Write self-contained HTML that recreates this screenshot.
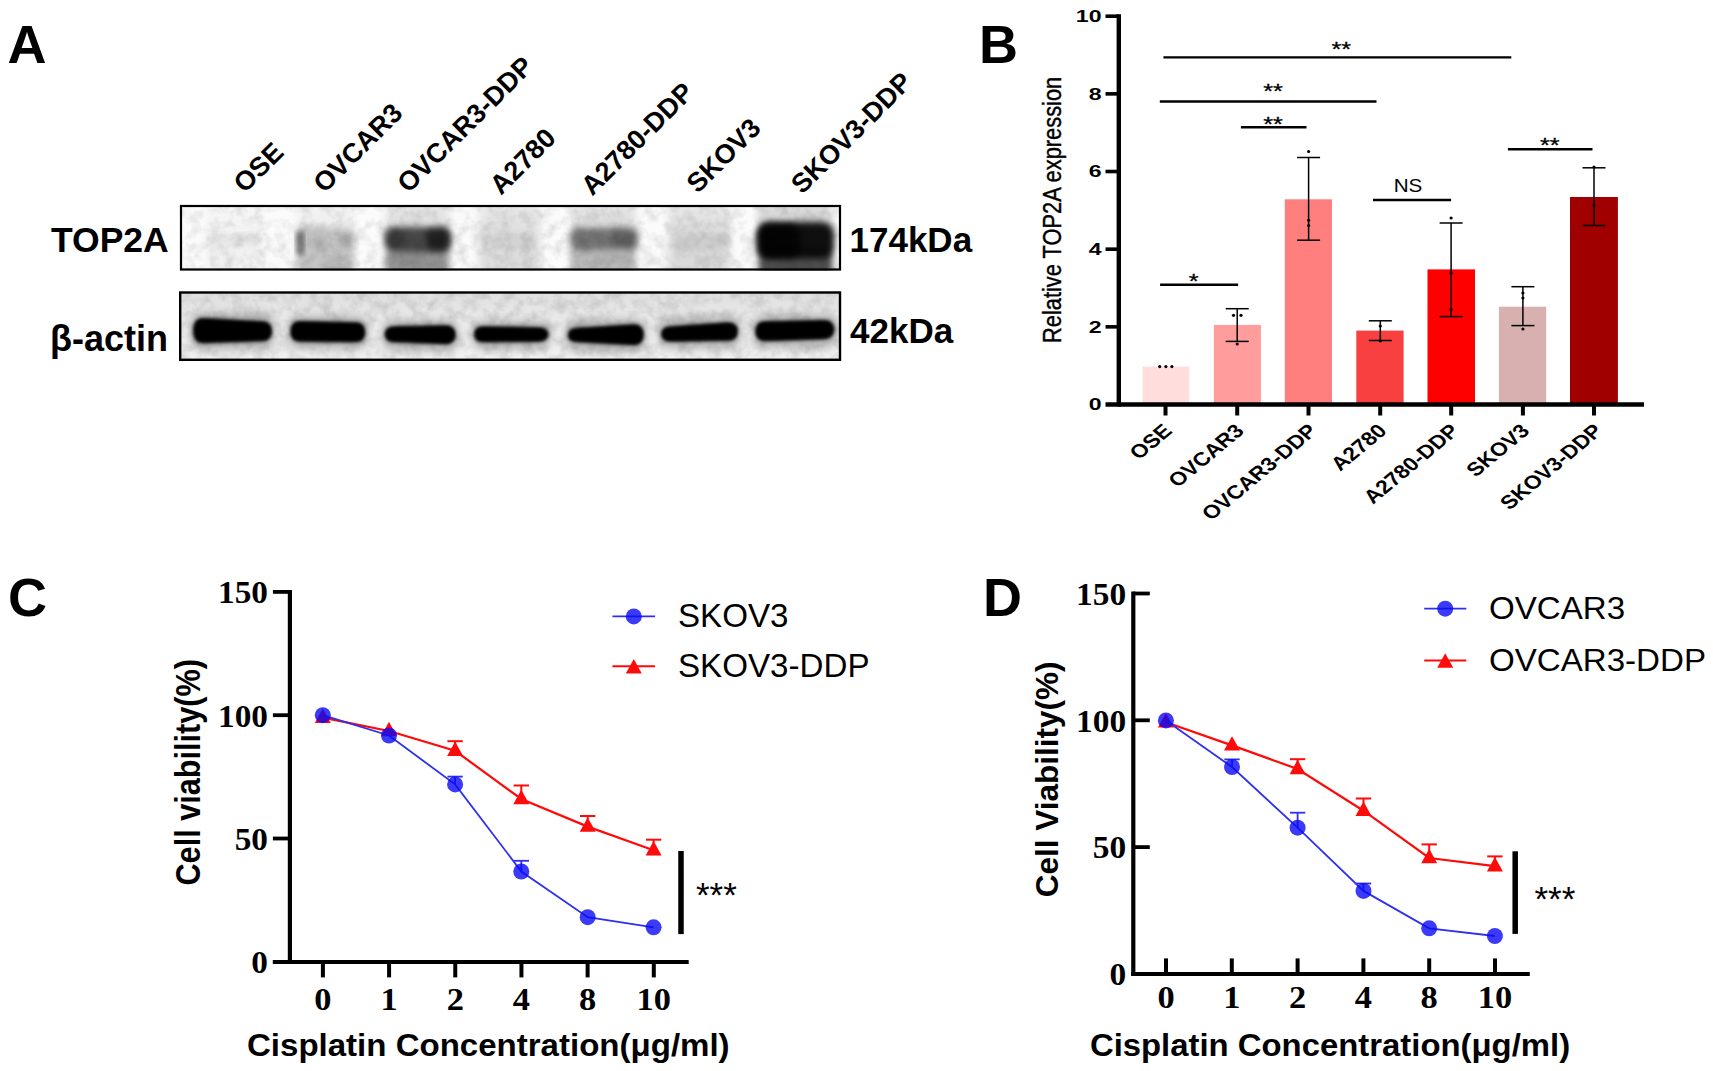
<!DOCTYPE html>
<html lang="en">
<head>
<meta charset="utf-8">
<title>TOP2A expression and cisplatin resistance in ovarian cancer cell lines</title>
<style>
html,body{margin:0;padding:0;background:#fff;}
body{width:1713px;height:1071px;overflow:hidden;font-family:'Liberation Sans', Arial, sans-serif;}
svg{display:block;}
text{white-space:pre;}
</style>
</head>
<body>
<svg width="1713" height="1071" viewBox="0 0 1713 1071">
<defs>
<filter id="bl1" x="-20%" y="-50%" width="140%" height="200%"><feGaussianBlur stdDeviation="1.4"/></filter>
<filter id="bl2" x="-20%" y="-60%" width="140%" height="220%"><feGaussianBlur stdDeviation="2.8"/></filter>
<filter id="bl3" x="-30%" y="-60%" width="160%" height="220%"><feGaussianBlur stdDeviation="3"/></filter>
<filter id="bl4" x="-30%" y="-60%" width="160%" height="220%"><feGaussianBlur stdDeviation="4.5"/></filter>
<linearGradient id="laneg" x1="0" y1="0" x2="0" y2="1">
<stop offset="0" stop-color="#000" stop-opacity="0.55"/><stop offset="0.25" stop-color="#000" stop-opacity="0.6"/><stop offset="0.5" stop-color="#000" stop-opacity="1"/><stop offset="1" stop-color="#000" stop-opacity="1"/>
</linearGradient>
<filter id="noise" x="0" y="0" width="100%" height="100%"><feTurbulence type="fractalNoise" baseFrequency="0.09" numOctaves="3" seed="7"/><feColorMatrix type="matrix" values="0 0 0 0 0  0 0 0 0 0  0 0 0 0 0  1.0 0 0 0 -0.38"/></filter>
<linearGradient id="bg2" x1="0" y1="0" x2="0" y2="1">
<stop offset="0" stop-color="#dedede"/><stop offset="0.35" stop-color="#e9e9e9"/><stop offset="1" stop-color="#f1f1f1"/>
</linearGradient>
</defs>
<rect x="0" y="0" width="1713" height="1071" fill="#ffffff"/>

<g id="panelA">
<text transform="translate(7.50,63.30)" font-family="'Liberation Sans', Arial, sans-serif" font-size="54" font-weight="bold" text-anchor="start" fill="#000" >A</text>
<text transform="translate(244.80,194.10) rotate(-45)" font-family="'Liberation Sans', Arial, sans-serif" font-size="27" font-weight="bold" text-anchor="start" fill="#000" >OSE</text>
<text transform="translate(324.50,194.10) rotate(-45)" font-family="'Liberation Sans', Arial, sans-serif" font-size="27" font-weight="bold" text-anchor="start" fill="#000" >OVCAR3</text>
<text transform="translate(408.50,194.10) rotate(-45)" font-family="'Liberation Sans', Arial, sans-serif" font-size="27" font-weight="bold" text-anchor="start" fill="#000" >OVCAR3-DDP</text>
<text transform="translate(501.00,196.00) rotate(-45)" font-family="'Liberation Sans', Arial, sans-serif" font-size="27" font-weight="bold" text-anchor="start" fill="#000" >A2780</text>
<text transform="translate(592.20,196.80) rotate(-45)" font-family="'Liberation Sans', Arial, sans-serif" font-size="27" font-weight="bold" text-anchor="start" fill="#000" >A2780-DDP</text>
<text transform="translate(697.70,194.30) rotate(-45)" font-family="'Liberation Sans', Arial, sans-serif" font-size="27" font-weight="bold" text-anchor="start" fill="#000" >SKOV3</text>
<text transform="translate(802.20,195.00) rotate(-45)" font-family="'Liberation Sans', Arial, sans-serif" font-size="27" font-weight="bold" text-anchor="start" fill="#000" >SKOV3-DDP</text>
<text transform="translate(51.00,251.90) scale(1.015,1.0)" font-family="'Liberation Sans', Arial, sans-serif" font-size="35" font-weight="bold" text-anchor="start" fill="#000" >TOP2A</text>
<text transform="translate(50.00,350.80)" font-family="'Liberation Sans', Arial, sans-serif" font-size="36" font-weight="bold" text-anchor="start" fill="#000" >β-actin</text>
<text transform="translate(849.50,251.90)" font-family="'Liberation Sans', Arial, sans-serif" font-size="35" font-weight="bold" text-anchor="start" fill="#000" >174kDa</text>
<text transform="translate(850.00,343.30)" font-family="'Liberation Sans', Arial, sans-serif" font-size="35" font-weight="bold" text-anchor="start" fill="#000" >42kDa</text>
<clipPath id="clipB1"><rect x="180.0" y="205.0" width="661.0" height="65.5"/></clipPath>
<g clip-path="url(#clipB1)">
<rect x="180.00" y="205.00" width="661.00" height="65.50" fill="#fbfbfb" />
<rect x="205.0" y="180.0" width="59.0" height="115.5" fill="url(#laneg)" opacity="0.035" filter="url(#bl4)"/>
<rect x="208.0" y="236.0" width="52.0" height="10.0" rx="3.3" fill="#000" opacity="0.05" filter="url(#bl3)"/>
<rect x="297.0" y="180.0" width="57.0" height="115.5" fill="url(#laneg)" opacity="0.06" filter="url(#bl4)"/>
<rect x="297.0" y="228.0" width="57.0" height="67.5" fill="#000" opacity="0.17" filter="url(#bl3)"/>
<rect x="296.0" y="231.0" width="8.0" height="24.0" rx="2.7" fill="#000" opacity="0.42" filter="url(#bl2)"/>
<rect x="312.0" y="236.0" width="14.0" height="12.0" rx="4.0" fill="#000" opacity="0.1" filter="url(#bl3)"/>
<rect x="338.0" y="234.0" width="16.0" height="14.0" rx="4.7" fill="#000" opacity="0.1" filter="url(#bl3)"/>
<rect x="322.0" y="258.0" width="30.0" height="37.5" fill="#000" opacity="0.06" filter="url(#bl3)"/>
<rect x="386.0" y="180.0" width="63.0" height="115.5" fill="url(#laneg)" opacity="0.14" filter="url(#bl4)"/>
<rect x="385.0" y="227.0" width="66.0" height="25.0" rx="8.3" fill="#000" opacity="0.66" filter="url(#bl3)"/>
<rect x="426.0" y="229.0" width="24.0" height="21.0" rx="7.0" fill="#000" opacity="0.55" filter="url(#bl3)"/>
<rect x="386.0" y="231.0" width="20.0" height="16.0" rx="5.3" fill="#000" opacity="0.25" filter="url(#bl3)"/>
<rect x="386.0" y="250.0" width="63.0" height="45.5" fill="#000" opacity="0.32" filter="url(#bl3)"/>
<rect x="479.0" y="180.0" width="61.0" height="115.5" fill="url(#laneg)" opacity="0.12" filter="url(#bl4)"/>
<rect x="484.0" y="234.0" width="52.0" height="14.0" rx="4.7" fill="#000" opacity="0.04" filter="url(#bl3)"/>
<rect x="571.0" y="180.0" width="65.0" height="115.5" fill="url(#laneg)" opacity="0.15" filter="url(#bl4)"/>
<rect x="570.0" y="228.0" width="68.0" height="22.0" rx="7.3" fill="#000" opacity="0.46" filter="url(#bl3)"/>
<rect x="612.0" y="232.0" width="24.0" height="14.0" rx="4.7" fill="#000" opacity="0.18" filter="url(#bl3)"/>
<rect x="571.0" y="250.0" width="65.0" height="45.5" fill="#000" opacity="0.14" filter="url(#bl3)"/>
<rect x="668.0" y="180.0" width="62.0" height="115.5" fill="url(#laneg)" opacity="0.13" filter="url(#bl4)"/>
<rect x="672.0" y="234.0" width="56.0" height="16.0" rx="5.3" fill="#000" opacity="0.06" filter="url(#bl3)"/>
<rect x="759.0" y="180.0" width="73.0" height="115.5" fill="url(#laneg)" opacity="0.2" filter="url(#bl4)"/>
<rect x="757.0" y="222.0" width="77.0" height="36.0" rx="12.0" fill="#000" opacity="0.92" filter="url(#bl3)"/>
<rect x="758.0" y="224.0" width="42.0" height="34.0" rx="11.3" fill="#000" opacity="0.7" filter="url(#bl3)"/>
<rect x="759.0" y="250.0" width="73.0" height="45.5" fill="#000" opacity="0.62" filter="url(#bl3)"/>
<rect x="180.0" y="205.0" width="661.0" height="65.5" filter="url(#noise)" opacity="0.22"/>
</g>
<rect x="181.0" y="206.0" width="659.0" height="63.5" fill="none" stroke="#000" stroke-width="2.2"/>
<clipPath id="clipB2"><rect x="179.0" y="291.5" width="662.0" height="69.30000000000001"/></clipPath>
<g clip-path="url(#clipB2)">
<rect x="179.00" y="291.50" width="662.00" height="69.30" fill="url(#bg2)" />
<rect x="190.9" y="312.7" width="83.4" height="37.9" rx="10" fill="#000" opacity="0.22" filter="url(#bl4)"/>
<path d="M202.9,318.7 L262.3,322.0 Q271.3,322.0 271.3,331.2 Q271.3,340.5 262.3,340.5 L202.9,342.6 Q193.9,342.6 193.9,330.6 Q193.9,318.7 202.9,318.7 Z" fill="#000" filter="url(#bl2)"/>
<path d="M202.9,318.7 L262.3,322.0 Q271.3,322.0 271.3,331.2 Q271.3,340.5 262.3,340.5 L202.9,342.6 Q193.9,342.6 193.9,330.6 Q193.9,318.7 202.9,318.7 Z" fill="#000" opacity="0.9" filter="url(#bl1)"/>
<rect x="288.1" y="315.7" width="79.5" height="33.9" rx="10" fill="#000" opacity="0.22" filter="url(#bl4)"/>
<path d="M300.1,321.7 L355.6,323.0 Q364.6,323.0 364.6,332.3 Q364.6,341.6 355.6,341.6 L300.1,341.0 Q291.1,341.0 291.1,331.4 Q291.1,321.7 300.1,321.7 Z" fill="#000" filter="url(#bl2)"/>
<path d="M300.1,321.7 L355.6,323.0 Q364.6,323.0 364.6,332.3 Q364.6,341.6 355.6,341.6 L300.1,341.0 Q291.1,341.0 291.1,331.4 Q291.1,321.7 300.1,321.7 Z" fill="#000" opacity="0.9" filter="url(#bl1)"/>
<rect x="382.4" y="320.0" width="75.5" height="31.6" rx="10" fill="#000" opacity="0.22" filter="url(#bl4)"/>
<path d="M394.4,327.0 L445.9,326.0 Q454.9,326.0 454.9,334.8 Q454.9,343.6 445.9,343.6 L394.4,341.5 Q385.4,341.5 385.4,334.2 Q385.4,327.0 394.4,327.0 Z" fill="#000" filter="url(#bl2)"/>
<path d="M394.4,327.0 L445.9,326.0 Q454.9,326.0 454.9,334.8 Q454.9,343.6 445.9,343.6 L394.4,341.5 Q385.4,341.5 385.4,334.2 Q385.4,327.0 394.4,327.0 Z" fill="#000" opacity="0.9" filter="url(#bl1)"/>
<rect x="471.7" y="321.0" width="79.0" height="28.6" rx="10" fill="#000" opacity="0.22" filter="url(#bl4)"/>
<path d="M483.7,327.0 L538.7,328.0 Q547.7,328.0 547.7,334.5 Q547.7,341.0 538.7,341.0 L483.7,341.6 Q474.7,341.6 474.7,334.3 Q474.7,327.0 483.7,327.0 Z" fill="#000" filter="url(#bl2)"/>
<path d="M483.7,327.0 L538.7,328.0 Q547.7,328.0 547.7,334.5 Q547.7,341.0 538.7,341.0 L483.7,341.6 Q474.7,341.6 474.7,334.3 Q474.7,327.0 483.7,327.0 Z" fill="#000" opacity="0.9" filter="url(#bl1)"/>
<rect x="565.5" y="319.0" width="80.5" height="33.5" rx="10" fill="#000" opacity="0.22" filter="url(#bl4)"/>
<path d="M577.5,328.5 L634.0,325.0 Q643.0,325.0 643.0,334.8 Q643.0,344.5 634.0,344.5 L577.5,341.5 Q568.5,341.5 568.5,335.0 Q568.5,328.5 577.5,328.5 Z" fill="#000" filter="url(#bl2)"/>
<path d="M577.5,328.5 L634.0,325.0 Q643.0,325.0 643.0,334.8 Q643.0,344.5 634.0,344.5 L577.5,341.5 Q568.5,341.5 568.5,335.0 Q568.5,328.5 577.5,328.5 Z" fill="#000" opacity="0.9" filter="url(#bl1)"/>
<rect x="658.8" y="317.0" width="81.4" height="32.0" rx="10" fill="#000" opacity="0.22" filter="url(#bl4)"/>
<path d="M670.8,327.0 L728.2,323.0 Q737.2,323.0 737.2,331.5 Q737.2,340.0 728.2,340.0 L670.8,341.0 Q661.8,341.0 661.8,334.0 Q661.8,327.0 670.8,327.0 Z" fill="#000" filter="url(#bl2)"/>
<path d="M670.8,327.0 L728.2,323.0 Q737.2,323.0 737.2,331.5 Q737.2,340.0 728.2,340.0 L670.8,341.0 Q661.8,341.0 661.8,334.0 Q661.8,327.0 670.8,327.0 Z" fill="#000" opacity="0.9" filter="url(#bl1)"/>
<rect x="753.0" y="314.7" width="83.5" height="33.8" rx="10" fill="#000" opacity="0.22" filter="url(#bl4)"/>
<path d="M765.0,322.0 L824.5,320.7 Q833.5,320.7 833.5,329.6 Q833.5,338.5 824.5,338.5 L765.0,340.5 Q756.0,340.5 756.0,331.2 Q756.0,322.0 765.0,322.0 Z" fill="#000" filter="url(#bl2)"/>
<path d="M765.0,322.0 L824.5,320.7 Q833.5,320.7 833.5,329.6 Q833.5,338.5 824.5,338.5 L765.0,340.5 Q756.0,340.5 756.0,331.2 Q756.0,322.0 765.0,322.0 Z" fill="#000" opacity="0.9" filter="url(#bl1)"/>
<rect x="179.0" y="291.5" width="662.0" height="69.30000000000001" filter="url(#noise)" opacity="0.25"/>
</g>
<rect x="180.2" y="292.5" width="659.8" height="67.30000000000001" fill="none" stroke="#000" stroke-width="2.4"/>
</g>
<g id="panelB">
<text transform="translate(979.00,62.80)" font-family="'Liberation Sans', Arial, sans-serif" font-size="54" font-weight="bold" text-anchor="start" fill="#000" >B</text>
<rect x="1142.60" y="366.60" width="46.60" height="37.90" fill="#FFDDDD" />
<rect x="1213.90" y="324.90" width="47.00" height="79.60" fill="#FF9C9C" />
<rect x="1284.80" y="199.30" width="47.20" height="205.20" fill="#FF7F7F" />
<rect x="1356.30" y="330.60" width="47.30" height="73.90" fill="#F84040" />
<rect x="1427.50" y="269.40" width="47.50" height="135.10" fill="#FF0000" />
<rect x="1498.90" y="306.70" width="47.30" height="97.80" fill="#D9B0B0" />
<rect x="1570.00" y="197.00" width="47.90" height="207.50" fill="#A00000" />
<line x1="1118.80" y1="14.30" x2="1118.80" y2="406.60" stroke="#000" stroke-width="4.4" stroke-linecap="butt"/>
<line x1="1105.50" y1="404.50" x2="1644.00" y2="404.50" stroke="#000" stroke-width="4.3" stroke-linecap="butt"/>
<text transform="translate(1101.50,410.40) scale(1.4,1.0)" font-family="'Liberation Sans', Arial, sans-serif" font-size="16.5" font-weight="bold" text-anchor="end" fill="#000" >0</text>
<line x1="1105.50" y1="326.84" x2="1118.80" y2="326.84" stroke="#000" stroke-width="3.6" stroke-linecap="butt"/>
<text transform="translate(1101.50,332.74) scale(1.4,1.0)" font-family="'Liberation Sans', Arial, sans-serif" font-size="16.5" font-weight="bold" text-anchor="end" fill="#000" >2</text>
<line x1="1105.50" y1="249.18" x2="1118.80" y2="249.18" stroke="#000" stroke-width="3.6" stroke-linecap="butt"/>
<text transform="translate(1101.50,255.08) scale(1.4,1.0)" font-family="'Liberation Sans', Arial, sans-serif" font-size="16.5" font-weight="bold" text-anchor="end" fill="#000" >4</text>
<line x1="1105.50" y1="171.52" x2="1118.80" y2="171.52" stroke="#000" stroke-width="3.6" stroke-linecap="butt"/>
<text transform="translate(1101.50,177.42) scale(1.4,1.0)" font-family="'Liberation Sans', Arial, sans-serif" font-size="16.5" font-weight="bold" text-anchor="end" fill="#000" >6</text>
<line x1="1105.50" y1="93.86" x2="1118.80" y2="93.86" stroke="#000" stroke-width="3.6" stroke-linecap="butt"/>
<text transform="translate(1101.50,99.76) scale(1.4,1.0)" font-family="'Liberation Sans', Arial, sans-serif" font-size="16.5" font-weight="bold" text-anchor="end" fill="#000" >8</text>
<line x1="1105.50" y1="16.20" x2="1118.80" y2="16.20" stroke="#000" stroke-width="3.6" stroke-linecap="butt"/>
<text transform="translate(1101.50,22.10) scale(1.4,1.0)" font-family="'Liberation Sans', Arial, sans-serif" font-size="16.5" font-weight="bold" text-anchor="end" fill="#000" >10</text>
<line x1="1165.50" y1="404.50" x2="1165.50" y2="415.50" stroke="#000" stroke-width="4.0" stroke-linecap="butt"/>
<line x1="1237.20" y1="404.50" x2="1237.20" y2="415.50" stroke="#000" stroke-width="4.0" stroke-linecap="butt"/>
<line x1="1308.50" y1="404.50" x2="1308.50" y2="415.50" stroke="#000" stroke-width="4.0" stroke-linecap="butt"/>
<line x1="1380.20" y1="404.50" x2="1380.20" y2="415.50" stroke="#000" stroke-width="4.0" stroke-linecap="butt"/>
<line x1="1451.20" y1="404.50" x2="1451.20" y2="415.50" stroke="#000" stroke-width="4.0" stroke-linecap="butt"/>
<line x1="1522.90" y1="404.50" x2="1522.90" y2="415.50" stroke="#000" stroke-width="4.0" stroke-linecap="butt"/>
<line x1="1594.00" y1="404.50" x2="1594.00" y2="415.50" stroke="#000" stroke-width="4.0" stroke-linecap="butt"/>
<line x1="1237.20" y1="308.70" x2="1237.20" y2="341.40" stroke="#000" stroke-width="1.5" stroke-linecap="butt"/>
<line x1="1225.70" y1="308.70" x2="1248.70" y2="308.70" stroke="#000" stroke-width="1.5" stroke-linecap="butt"/>
<line x1="1225.70" y1="341.40" x2="1248.70" y2="341.40" stroke="#000" stroke-width="1.5" stroke-linecap="butt"/>
<line x1="1308.60" y1="157.50" x2="1308.60" y2="240.20" stroke="#000" stroke-width="1.5" stroke-linecap="butt"/>
<line x1="1297.10" y1="157.50" x2="1320.10" y2="157.50" stroke="#000" stroke-width="1.5" stroke-linecap="butt"/>
<line x1="1297.10" y1="240.20" x2="1320.10" y2="240.20" stroke="#000" stroke-width="1.5" stroke-linecap="butt"/>
<line x1="1380.30" y1="320.80" x2="1380.30" y2="340.50" stroke="#000" stroke-width="1.5" stroke-linecap="butt"/>
<line x1="1368.80" y1="320.80" x2="1391.80" y2="320.80" stroke="#000" stroke-width="1.5" stroke-linecap="butt"/>
<line x1="1368.80" y1="340.50" x2="1391.80" y2="340.50" stroke="#000" stroke-width="1.5" stroke-linecap="butt"/>
<line x1="1451.10" y1="223.00" x2="1451.10" y2="316.60" stroke="#000" stroke-width="1.5" stroke-linecap="butt"/>
<line x1="1439.60" y1="223.00" x2="1462.60" y2="223.00" stroke="#000" stroke-width="1.5" stroke-linecap="butt"/>
<line x1="1439.60" y1="316.60" x2="1462.60" y2="316.60" stroke="#000" stroke-width="1.5" stroke-linecap="butt"/>
<line x1="1522.90" y1="286.70" x2="1522.90" y2="325.60" stroke="#000" stroke-width="1.5" stroke-linecap="butt"/>
<line x1="1511.40" y1="286.70" x2="1534.40" y2="286.70" stroke="#000" stroke-width="1.5" stroke-linecap="butt"/>
<line x1="1511.40" y1="325.60" x2="1534.40" y2="325.60" stroke="#000" stroke-width="1.5" stroke-linecap="butt"/>
<line x1="1594.00" y1="167.80" x2="1594.00" y2="225.50" stroke="#000" stroke-width="1.5" stroke-linecap="butt"/>
<line x1="1582.50" y1="167.80" x2="1605.50" y2="167.80" stroke="#000" stroke-width="1.5" stroke-linecap="butt"/>
<line x1="1582.50" y1="225.50" x2="1605.50" y2="225.50" stroke="#000" stroke-width="1.5" stroke-linecap="butt"/>
<circle cx="1159.7" cy="366.6" r="1.6" fill="#000"/>
<circle cx="1165.9" cy="366.6" r="1.6" fill="#000"/>
<circle cx="1171.9" cy="366.6" r="1.6" fill="#000"/>
<circle cx="1233.5" cy="315.3" r="1.6" fill="#000"/>
<circle cx="1241.0" cy="315.3" r="1.6" fill="#000"/>
<circle cx="1237.2" cy="344.0" r="1.6" fill="#000"/>
<circle cx="1308.6" cy="151.5" r="1.6" fill="#000"/>
<circle cx="1308.6" cy="220.3" r="1.6" fill="#000"/>
<circle cx="1308.6" cy="225.5" r="1.6" fill="#000"/>
<circle cx="1380.3" cy="326.0" r="1.6" fill="#000"/>
<circle cx="1380.3" cy="340.8" r="1.6" fill="#000"/>
<circle cx="1451.1" cy="218.0" r="1.6" fill="#000"/>
<circle cx="1451.1" cy="309.7" r="1.6" fill="#000"/>
<circle cx="1451.1" cy="273.0" r="1.6" fill="#000"/>
<circle cx="1522.9" cy="293.0" r="1.6" fill="#000"/>
<circle cx="1522.9" cy="329.0" r="1.6" fill="#000"/>
<circle cx="1522.9" cy="298.0" r="1.6" fill="#000"/>
<circle cx="1594.0" cy="167.0" r="1.6" fill="#000"/>
<circle cx="1594.0" cy="205.0" r="1.6" fill="#000"/>
<line x1="1163.40" y1="57.40" x2="1511.30" y2="57.40" stroke="#000" stroke-width="2.4" stroke-linecap="butt"/>
<text transform="translate(1341.30,55.70) scale(1.2,1.0)" font-family="'Liberation Sans', Arial, sans-serif" font-size="21" font-weight="normal" text-anchor="middle" fill="#000" stroke="#000" stroke-width="0.3">**</text>
<line x1="1159.80" y1="101.50" x2="1376.50" y2="101.50" stroke="#000" stroke-width="2.4" stroke-linecap="butt"/>
<text transform="translate(1273.10,97.50) scale(1.2,1.0)" font-family="'Liberation Sans', Arial, sans-serif" font-size="21" font-weight="normal" text-anchor="middle" fill="#000" stroke="#000" stroke-width="0.3">**</text>
<line x1="1240.90" y1="127.20" x2="1306.50" y2="127.20" stroke="#000" stroke-width="2.4" stroke-linecap="butt"/>
<text transform="translate(1273.10,131.00) scale(1.2,1.0)" font-family="'Liberation Sans', Arial, sans-serif" font-size="21" font-weight="normal" text-anchor="middle" fill="#000" stroke="#000" stroke-width="0.3">**</text>
<line x1="1160.10" y1="284.80" x2="1238.10" y2="284.80" stroke="#000" stroke-width="2.4" stroke-linecap="butt"/>
<text transform="translate(1193.70,288.00) scale(1.2,1.0)" font-family="'Liberation Sans', Arial, sans-serif" font-size="21" font-weight="normal" text-anchor="middle" fill="#000" stroke="#000" stroke-width="0.3">*</text>
<line x1="1507.90" y1="149.20" x2="1592.50" y2="149.20" stroke="#000" stroke-width="2.4" stroke-linecap="butt"/>
<text transform="translate(1549.70,151.60) scale(1.2,1.0)" font-family="'Liberation Sans', Arial, sans-serif" font-size="21" font-weight="normal" text-anchor="middle" fill="#000" stroke="#000" stroke-width="0.3">**</text>
<line x1="1373.00" y1="200.00" x2="1451.10" y2="200.00" stroke="#000" stroke-width="2.4" stroke-linecap="butt"/>
<text transform="translate(1408.00,191.50) scale(1.18,1.0)" font-family="'Liberation Sans', Arial, sans-serif" font-size="17.5" font-weight="normal" text-anchor="middle" fill="#000" >NS</text>
<text transform="translate(1061.40,209.90) scale(1.175,1.0) rotate(-90)" font-family="'Liberation Sans', Arial, sans-serif" font-size="21.85" font-weight="normal" text-anchor="middle" fill="#000" stroke="#000" stroke-width="0.35">Relative TOP2A expression</text>
<text transform="translate(1173.30,432.00) scale(1.2,1.0) rotate(-45)" font-family="'Liberation Sans', Arial, sans-serif" font-size="19.1" font-weight="bold" text-anchor="end" fill="#000" >OSE</text>
<text transform="translate(1245.30,432.00) scale(1.2,1.0) rotate(-45)" font-family="'Liberation Sans', Arial, sans-serif" font-size="19.1" font-weight="bold" text-anchor="end" fill="#000" >OVCAR3</text>
<text transform="translate(1318.40,432.00) scale(1.2,1.0) rotate(-45)" font-family="'Liberation Sans', Arial, sans-serif" font-size="19.1" font-weight="bold" text-anchor="end" fill="#000" >OVCAR3-DDP</text>
<text transform="translate(1388.00,432.00) scale(1.2,1.0) rotate(-45)" font-family="'Liberation Sans', Arial, sans-serif" font-size="19.1" font-weight="bold" text-anchor="end" fill="#000" >A2780</text>
<text transform="translate(1460.30,432.00) scale(1.2,1.0) rotate(-45)" font-family="'Liberation Sans', Arial, sans-serif" font-size="19.1" font-weight="bold" text-anchor="end" fill="#000" >A2780-DDP</text>
<text transform="translate(1530.70,432.00) scale(1.2,1.0) rotate(-45)" font-family="'Liberation Sans', Arial, sans-serif" font-size="19.1" font-weight="bold" text-anchor="end" fill="#000" >SKOV3</text>
<text transform="translate(1603.90,432.00) scale(1.2,1.0) rotate(-45)" font-family="'Liberation Sans', Arial, sans-serif" font-size="19.1" font-weight="bold" text-anchor="end" fill="#000" >SKOV3-DDP</text>
</g>
<g id="panelC">
<text transform="translate(8.00,615.50)" font-family="'Liberation Sans', Arial, sans-serif" font-size="54" font-weight="bold" text-anchor="start" fill="#000" >C</text>
<line x1="289.90" y1="590.00" x2="289.90" y2="963.90" stroke="#000" stroke-width="4.2" stroke-linecap="butt"/>
<line x1="272.80" y1="961.90" x2="688.70" y2="961.90" stroke="#000" stroke-width="4.0" stroke-linecap="butt"/>
<text transform="translate(268.00,973.20) scale(1.075,1.0)" font-family="'Liberation Serif', 'Times New Roman', serif" font-size="31" font-weight="bold" text-anchor="end" fill="#000" >0</text>
<line x1="272.90" y1="838.50" x2="289.90" y2="838.50" stroke="#000" stroke-width="3.8" stroke-linecap="butt"/>
<text transform="translate(268.00,849.80) scale(1.075,1.0)" font-family="'Liberation Serif', 'Times New Roman', serif" font-size="31" font-weight="bold" text-anchor="end" fill="#000" >50</text>
<line x1="272.90" y1="715.20" x2="289.90" y2="715.20" stroke="#000" stroke-width="3.8" stroke-linecap="butt"/>
<text transform="translate(268.00,726.50) scale(1.075,1.0)" font-family="'Liberation Serif', 'Times New Roman', serif" font-size="31" font-weight="bold" text-anchor="end" fill="#000" >100</text>
<line x1="272.90" y1="591.90" x2="289.90" y2="591.90" stroke="#000" stroke-width="3.8" stroke-linecap="butt"/>
<text transform="translate(268.00,603.20) scale(1.075,1.0)" font-family="'Liberation Serif', 'Times New Roman', serif" font-size="31" font-weight="bold" text-anchor="end" fill="#000" >150</text>
<line x1="322.90" y1="961.90" x2="322.90" y2="977.40" stroke="#000" stroke-width="4.0" stroke-linecap="butt"/>
<text transform="translate(322.90,1009.50) scale(1.11,1.0)" font-family="'Liberation Serif', 'Times New Roman', serif" font-size="31" font-weight="bold" text-anchor="middle" fill="#000" >0</text>
<line x1="389.08" y1="961.90" x2="389.08" y2="977.40" stroke="#000" stroke-width="4.0" stroke-linecap="butt"/>
<text transform="translate(389.08,1009.50) scale(1.11,1.0)" font-family="'Liberation Serif', 'Times New Roman', serif" font-size="31" font-weight="bold" text-anchor="middle" fill="#000" >1</text>
<line x1="455.26" y1="961.90" x2="455.26" y2="977.40" stroke="#000" stroke-width="4.0" stroke-linecap="butt"/>
<text transform="translate(455.26,1009.50) scale(1.11,1.0)" font-family="'Liberation Serif', 'Times New Roman', serif" font-size="31" font-weight="bold" text-anchor="middle" fill="#000" >2</text>
<line x1="521.44" y1="961.90" x2="521.44" y2="977.40" stroke="#000" stroke-width="4.0" stroke-linecap="butt"/>
<text transform="translate(521.44,1009.50) scale(1.11,1.0)" font-family="'Liberation Serif', 'Times New Roman', serif" font-size="31" font-weight="bold" text-anchor="middle" fill="#000" >4</text>
<line x1="587.62" y1="961.90" x2="587.62" y2="977.40" stroke="#000" stroke-width="4.0" stroke-linecap="butt"/>
<text transform="translate(587.62,1009.50) scale(1.11,1.0)" font-family="'Liberation Serif', 'Times New Roman', serif" font-size="31" font-weight="bold" text-anchor="middle" fill="#000" >8</text>
<line x1="653.80" y1="961.90" x2="653.80" y2="977.40" stroke="#000" stroke-width="4.0" stroke-linecap="butt"/>
<text transform="translate(653.80,1009.50) scale(1.11,1.0)" font-family="'Liberation Serif', 'Times New Roman', serif" font-size="31" font-weight="bold" text-anchor="middle" fill="#000" >10</text>
<line x1="455.10" y1="750.80" x2="455.10" y2="741.20" stroke="#ff0a0a" stroke-width="2.0" stroke-linecap="butt"/>
<line x1="447.40" y1="741.20" x2="462.80" y2="741.20" stroke="#ff0a0a" stroke-width="2.0" stroke-linecap="butt"/>
<line x1="521.30" y1="799.00" x2="521.30" y2="785.50" stroke="#ff0a0a" stroke-width="2.0" stroke-linecap="butt"/>
<line x1="513.60" y1="785.50" x2="529.00" y2="785.50" stroke="#ff0a0a" stroke-width="2.0" stroke-linecap="butt"/>
<line x1="587.70" y1="826.60" x2="587.70" y2="816.00" stroke="#ff0a0a" stroke-width="2.0" stroke-linecap="butt"/>
<line x1="580.00" y1="816.00" x2="595.40" y2="816.00" stroke="#ff0a0a" stroke-width="2.0" stroke-linecap="butt"/>
<line x1="653.60" y1="850.30" x2="653.60" y2="839.70" stroke="#ff0a0a" stroke-width="2.0" stroke-linecap="butt"/>
<line x1="645.90" y1="839.70" x2="661.30" y2="839.70" stroke="#ff0a0a" stroke-width="2.0" stroke-linecap="butt"/>
<polyline points="322.8,717.7 389.0,731.0 455.1,750.8 521.3,799.0 587.7,826.6 653.6,850.3" fill="none" stroke="#ff0a0a" stroke-width="2.2"/>
<polygon points="314.8,722.9 330.8,722.9 322.8,708.5" fill="#ff0a0a"/>
<polygon points="381.0,736.2 397.0,736.2 389.0,721.8" fill="#ff0a0a"/>
<polygon points="447.1,756.0 463.1,756.0 455.1,741.6" fill="#ff0a0a"/>
<polygon points="513.3,804.2 529.3,804.2 521.3,789.8" fill="#ff0a0a"/>
<polygon points="579.7,831.8 595.7,831.8 587.7,817.4" fill="#ff0a0a"/>
<polygon points="645.6,855.5 661.6,855.5 653.6,841.1" fill="#ff0a0a"/>
<line x1="455.10" y1="784.40" x2="455.10" y2="776.60" stroke="#2f2ff0" stroke-width="1.8" stroke-linecap="butt"/>
<line x1="447.40" y1="776.60" x2="462.80" y2="776.60" stroke="#2f2ff0" stroke-width="1.8" stroke-linecap="butt"/>
<line x1="521.30" y1="871.50" x2="521.30" y2="860.80" stroke="#2f2ff0" stroke-width="1.8" stroke-linecap="butt"/>
<line x1="513.60" y1="860.80" x2="529.00" y2="860.80" stroke="#2f2ff0" stroke-width="1.8" stroke-linecap="butt"/>
<polyline points="322.8,715.2 389.0,735.5 455.1,784.4 521.3,871.5 587.7,917.2 653.6,927.3" fill="none" stroke="#2f2ff0" stroke-width="1.8"/>
<circle cx="322.8" cy="715.2" r="8" fill="#0a0af5" fill-opacity="0.8"/>
<circle cx="389.0" cy="735.5" r="8" fill="#0a0af5" fill-opacity="0.8"/>
<circle cx="455.1" cy="784.4" r="8" fill="#0a0af5" fill-opacity="0.8"/>
<circle cx="521.3" cy="871.5" r="8" fill="#0a0af5" fill-opacity="0.8"/>
<circle cx="587.7" cy="917.2" r="8" fill="#0a0af5" fill-opacity="0.8"/>
<circle cx="653.6" cy="927.3" r="8" fill="#0a0af5" fill-opacity="0.8"/>
<line x1="681.00" y1="851.00" x2="681.00" y2="934.10" stroke="#000" stroke-width="5.5" stroke-linecap="butt"/>
<text transform="translate(696.00,906.50)" font-family="'Liberation Sans', Arial, sans-serif" font-size="35" font-weight="normal" text-anchor="start" fill="#000" >***</text>
<line x1="612.40" y1="616.40" x2="655.10" y2="616.40" stroke="#2f2ff0" stroke-width="1.8" stroke-linecap="butt"/>
<circle cx="633.8" cy="616.4" r="8" fill="#0a0af5" fill-opacity="0.8"/>
<text transform="translate(678.00,627.00) scale(1.02,1.0)" font-family="'Liberation Sans', Arial, sans-serif" font-size="32.5" font-weight="normal" text-anchor="start" fill="#000" >SKOV3</text>
<line x1="612.40" y1="666.20" x2="655.10" y2="666.20" stroke="#ff0a0a" stroke-width="2.0" stroke-linecap="butt"/>
<polygon points="625.8,673.5 641.8,673.5 633.8,658.9" fill="#ff0a0a"/>
<text transform="translate(678.00,676.80) scale(1.02,1.0)" font-family="'Liberation Sans', Arial, sans-serif" font-size="32.5" font-weight="normal" text-anchor="start" fill="#000" >SKOV3-DDP</text>
<text transform="translate(199.80,772.30) scale(1.165,1.0) rotate(-90)" font-family="'Liberation Sans', Arial, sans-serif" font-size="30.65" font-weight="bold" text-anchor="middle" fill="#000" >Cell viability(%)</text>
<text transform="translate(488.30,1055.50) scale(1.08,1.0)" font-family="'Liberation Sans', Arial, sans-serif" font-size="30.6" font-weight="bold" text-anchor="middle" fill="#000" >Cisplatin Concentration(μg/ml)</text>
</g>
<g id="panelD">
<text transform="translate(983.00,615.50)" font-family="'Liberation Sans', Arial, sans-serif" font-size="54" font-weight="bold" text-anchor="start" fill="#000" >D</text>
<line x1="1133.30" y1="591.60" x2="1133.30" y2="975.90" stroke="#000" stroke-width="4.2" stroke-linecap="butt"/>
<line x1="1131.20" y1="973.90" x2="1529.80" y2="973.90" stroke="#000" stroke-width="4.0" stroke-linecap="butt"/>
<text transform="translate(1126.20,985.20) scale(1.034,1.0)" font-family="'Liberation Serif', 'Times New Roman', serif" font-size="32.3" font-weight="bold" text-anchor="end" fill="#000" >0</text>
<line x1="1133.30" y1="847.10" x2="1149.80" y2="847.10" stroke="#000" stroke-width="3.8" stroke-linecap="butt"/>
<text transform="translate(1126.20,858.40) scale(1.034,1.0)" font-family="'Liberation Serif', 'Times New Roman', serif" font-size="32.3" font-weight="bold" text-anchor="end" fill="#000" >50</text>
<line x1="1133.30" y1="720.30" x2="1149.80" y2="720.30" stroke="#000" stroke-width="3.8" stroke-linecap="butt"/>
<text transform="translate(1126.20,731.60) scale(1.034,1.0)" font-family="'Liberation Serif', 'Times New Roman', serif" font-size="32.3" font-weight="bold" text-anchor="end" fill="#000" >100</text>
<line x1="1133.30" y1="593.50" x2="1149.80" y2="593.50" stroke="#000" stroke-width="3.8" stroke-linecap="butt"/>
<text transform="translate(1126.20,604.80) scale(1.034,1.0)" font-family="'Liberation Serif', 'Times New Roman', serif" font-size="32.3" font-weight="bold" text-anchor="end" fill="#000" >150</text>
<line x1="1166.00" y1="973.90" x2="1166.00" y2="958.40" stroke="#000" stroke-width="4.0" stroke-linecap="butt"/>
<text transform="translate(1166.00,1008.40) scale(1.075,1.0)" font-family="'Liberation Serif', 'Times New Roman', serif" font-size="32" font-weight="bold" text-anchor="middle" fill="#000" >0</text>
<line x1="1231.80" y1="973.90" x2="1231.80" y2="958.40" stroke="#000" stroke-width="4.0" stroke-linecap="butt"/>
<text transform="translate(1231.80,1008.40) scale(1.075,1.0)" font-family="'Liberation Serif', 'Times New Roman', serif" font-size="32" font-weight="bold" text-anchor="middle" fill="#000" >1</text>
<line x1="1297.60" y1="973.90" x2="1297.60" y2="958.40" stroke="#000" stroke-width="4.0" stroke-linecap="butt"/>
<text transform="translate(1297.60,1008.40) scale(1.075,1.0)" font-family="'Liberation Serif', 'Times New Roman', serif" font-size="32" font-weight="bold" text-anchor="middle" fill="#000" >2</text>
<line x1="1363.40" y1="973.90" x2="1363.40" y2="958.40" stroke="#000" stroke-width="4.0" stroke-linecap="butt"/>
<text transform="translate(1363.40,1008.40) scale(1.075,1.0)" font-family="'Liberation Serif', 'Times New Roman', serif" font-size="32" font-weight="bold" text-anchor="middle" fill="#000" >4</text>
<line x1="1429.20" y1="973.90" x2="1429.20" y2="958.40" stroke="#000" stroke-width="4.0" stroke-linecap="butt"/>
<text transform="translate(1429.20,1008.40) scale(1.075,1.0)" font-family="'Liberation Serif', 'Times New Roman', serif" font-size="32" font-weight="bold" text-anchor="middle" fill="#000" >8</text>
<line x1="1495.00" y1="973.90" x2="1495.00" y2="958.40" stroke="#000" stroke-width="4.0" stroke-linecap="butt"/>
<text transform="translate(1495.00,1008.40) scale(1.075,1.0)" font-family="'Liberation Serif', 'Times New Roman', serif" font-size="32" font-weight="bold" text-anchor="middle" fill="#000" >10</text>
<line x1="1297.60" y1="769.00" x2="1297.60" y2="759.20" stroke="#ff0a0a" stroke-width="2.0" stroke-linecap="butt"/>
<line x1="1289.90" y1="759.20" x2="1305.30" y2="759.20" stroke="#ff0a0a" stroke-width="2.0" stroke-linecap="butt"/>
<line x1="1363.50" y1="810.70" x2="1363.50" y2="798.50" stroke="#ff0a0a" stroke-width="2.0" stroke-linecap="butt"/>
<line x1="1355.80" y1="798.50" x2="1371.20" y2="798.50" stroke="#ff0a0a" stroke-width="2.0" stroke-linecap="butt"/>
<line x1="1429.20" y1="858.00" x2="1429.20" y2="844.40" stroke="#ff0a0a" stroke-width="2.0" stroke-linecap="butt"/>
<line x1="1421.50" y1="844.40" x2="1436.90" y2="844.40" stroke="#ff0a0a" stroke-width="2.0" stroke-linecap="butt"/>
<line x1="1494.90" y1="866.20" x2="1494.90" y2="856.40" stroke="#ff0a0a" stroke-width="2.0" stroke-linecap="butt"/>
<line x1="1487.20" y1="856.40" x2="1502.60" y2="856.40" stroke="#ff0a0a" stroke-width="2.0" stroke-linecap="butt"/>
<polyline points="1165.9,722.2 1232.0,745.4 1297.6,769.0 1363.5,810.7 1429.2,858.0 1494.9,866.2" fill="none" stroke="#ff0a0a" stroke-width="2.2"/>
<polygon points="1157.9,727.4 1173.9,727.4 1165.9,713.0" fill="#ff0a0a"/>
<polygon points="1224.0,750.6 1240.0,750.6 1232.0,736.2" fill="#ff0a0a"/>
<polygon points="1289.6,774.2 1305.6,774.2 1297.6,759.8" fill="#ff0a0a"/>
<polygon points="1355.5,815.9 1371.5,815.9 1363.5,801.5" fill="#ff0a0a"/>
<polygon points="1421.2,863.2 1437.2,863.2 1429.2,848.8" fill="#ff0a0a"/>
<polygon points="1486.9,871.4 1502.9,871.4 1494.9,857.0" fill="#ff0a0a"/>
<line x1="1232.00" y1="767.00" x2="1232.00" y2="759.40" stroke="#2f2ff0" stroke-width="1.8" stroke-linecap="butt"/>
<line x1="1224.30" y1="759.40" x2="1239.70" y2="759.40" stroke="#2f2ff0" stroke-width="1.8" stroke-linecap="butt"/>
<line x1="1297.60" y1="827.70" x2="1297.60" y2="812.70" stroke="#2f2ff0" stroke-width="1.8" stroke-linecap="butt"/>
<line x1="1289.90" y1="812.70" x2="1305.30" y2="812.70" stroke="#2f2ff0" stroke-width="1.8" stroke-linecap="butt"/>
<line x1="1363.50" y1="890.90" x2="1363.50" y2="883.50" stroke="#2f2ff0" stroke-width="1.8" stroke-linecap="butt"/>
<line x1="1355.80" y1="883.50" x2="1371.20" y2="883.50" stroke="#2f2ff0" stroke-width="1.8" stroke-linecap="butt"/>
<polyline points="1165.9,720.4 1232.0,767.0 1297.6,827.7 1363.5,890.9 1429.2,928.3 1494.9,936.0" fill="none" stroke="#2f2ff0" stroke-width="1.8"/>
<circle cx="1165.9" cy="720.4" r="8" fill="#0a0af5" fill-opacity="0.8"/>
<circle cx="1232.0" cy="767.0" r="8" fill="#0a0af5" fill-opacity="0.8"/>
<circle cx="1297.6" cy="827.7" r="8" fill="#0a0af5" fill-opacity="0.8"/>
<circle cx="1363.5" cy="890.9" r="8" fill="#0a0af5" fill-opacity="0.8"/>
<circle cx="1429.2" cy="928.3" r="8" fill="#0a0af5" fill-opacity="0.8"/>
<circle cx="1494.9" cy="936.0" r="8" fill="#0a0af5" fill-opacity="0.8"/>
<line x1="1515.20" y1="851.30" x2="1515.20" y2="933.90" stroke="#000" stroke-width="5.5" stroke-linecap="butt"/>
<text transform="translate(1534.50,911.20)" font-family="'Liberation Sans', Arial, sans-serif" font-size="35" font-weight="normal" text-anchor="start" fill="#000" >***</text>
<line x1="1424.20" y1="608.70" x2="1466.30" y2="608.70" stroke="#2f2ff0" stroke-width="1.8" stroke-linecap="butt"/>
<circle cx="1445.2" cy="608.7" r="8" fill="#0a0af5" fill-opacity="0.8"/>
<text transform="translate(1489.00,619.30) scale(1.028,1.0)" font-family="'Liberation Sans', Arial, sans-serif" font-size="32.2" font-weight="normal" text-anchor="start" fill="#000" >OVCAR3</text>
<line x1="1424.20" y1="660.50" x2="1466.30" y2="660.50" stroke="#ff0a0a" stroke-width="2.0" stroke-linecap="butt"/>
<polygon points="1437.2,667.8 1453.2,667.8 1445.2,653.2" fill="#ff0a0a"/>
<text transform="translate(1489.00,671.20) scale(1.028,1.0)" font-family="'Liberation Sans', Arial, sans-serif" font-size="32.2" font-weight="normal" text-anchor="start" fill="#000" >OVCAR3-DDP</text>
<text transform="translate(1057.90,779.30) rotate(-90)" font-family="'Liberation Sans', Arial, sans-serif" font-size="31.5" font-weight="bold" text-anchor="middle" fill="#000" >Cell Viability(%)</text>
<text transform="translate(1330.00,1055.50) scale(1.074,1.0)" font-family="'Liberation Sans', Arial, sans-serif" font-size="30.6" font-weight="bold" text-anchor="middle" fill="#000" >Cisplatin Concentration(μg/ml)</text>
</g>
</svg>
</body>
</html>
